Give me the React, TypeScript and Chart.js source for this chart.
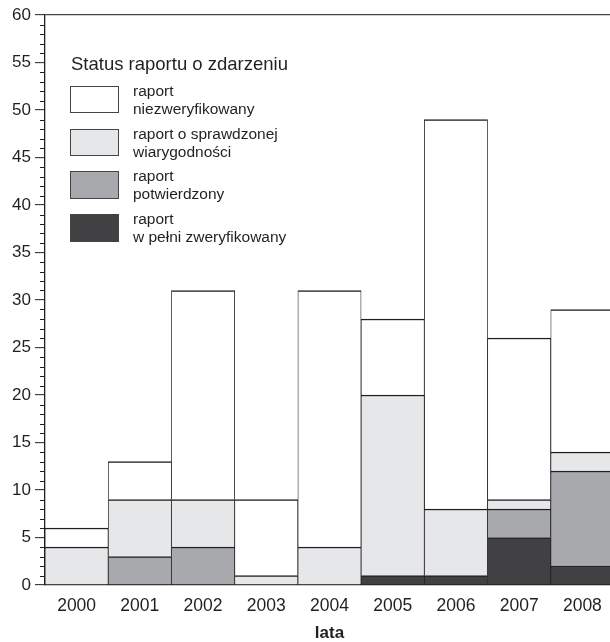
import React, { useEffect, useRef } from 'react';
import { Chart, registerables } from 'chart.js';

Chart.register(...registerables);

const years = ['2000', '2001', '2002', '2003', '2004', '2005', '2006', '2007', '2008'];
const fullyVerified = [0, 0, 0, 0, 0, 1, 1, 5, 2];
const confirmed = [0, 3, 4, 0, 0, 0, 0, 3, 10];
const checked = [4, 6, 5, 1, 4, 19, 7, 1, 2];
const unverified = [2, 4, 22, 8, 27, 8, 41, 17, 15];

const legendTitle = 'Status raportu o zdarzeniu';
const labelUnverified = ['raport', 'niezweryfikowany'];
const labelChecked = ['raport o sprawdzonej', 'wiarygodności'];
const labelConfirmed = ['raport', 'potwierdzony'];
const labelFully = ['raport', 'w pełni zweryfikowany'];
const axisTitle = 'lata';

const FONT = '"Liberation Sans", Arial, Helvetica, sans-serif';
const INK = '#231f20';
const C_WHITE = '#ffffff';
const C_LIGHT = '#e6e7e8';
const C_MID = '#a7a9ac';
const C_DARK = '#414042';

const minorTicks = {
  id: 'minorTicks',
  afterDraw(chart: any) {
    const y = chart.scales.y;
    const ctx = chart.ctx;
    const left = chart.chartArea.left;
    ctx.save();
    ctx.strokeStyle = INK;
    ctx.lineWidth = 1;
    for (let v = 0; v <= 60; v++) {
      if (v % 5 === 0) continue;
      const py = Math.round(y.getPixelForValue(v)) + 0.5;
      ctx.beginPath();
      ctx.moveTo(left - 5, py);
      ctx.lineTo(left, py);
      ctx.stroke();
    }
    ctx.restore();
  },
};

export default function App() {
  const ref = useRef<HTMLCanvasElement | null>(null);

  useEffect(() => {
    if (!ref.current) return;
    const bw = { top: 1.5, left: 0.8, right: 0.8, bottom: 0 };
    const mk = (label: string, data: number[], color: string) => ({
      label,
      data,
      backgroundColor: color,
      borderColor: INK,
      borderWidth: bw,
      borderSkipped: 'start' as const,
      categoryPercentage: 1,
      barPercentage: 1,
    });
    const chart = new Chart(ref.current, {
      type: 'bar',
      data: {
        labels: years,
        datasets: [
          mk(labelFully.join(' '), fullyVerified, C_DARK),
          mk(labelConfirmed.join(' '), confirmed, C_MID),
          mk(labelChecked.join(' '), checked, C_LIGHT),
          mk(labelUnverified.join(' '), unverified, C_WHITE),
        ],
      },
      options: {
        responsive: false,
        animation: false,
        layout: { padding: { top: 15, right: 0, bottom: 0, left: 0 } },
        plugins: { legend: { display: false }, tooltip: { enabled: false } },
        scales: {
          x: {
            stacked: true,
            afterFit: (s: any) => {
              s.height = 57;
            },
            grid: { display: false, drawTicks: false },
            border: { display: true, color: INK, width: 1.3 },
            ticks: { color: INK, font: { family: FONT, size: 17.5 }, padding: 11 },
            title: {
              display: true,
              text: axisTitle,
              color: INK,
              font: { family: FONT, size: 17, weight: 'bold' },
              padding: { top: 9, bottom: -2 },
            },
          },
          y: {
            stacked: true,
            min: 0,
            max: 60,
            afterFit: (s: any) => {
              s.width = 45;
            },
            grid: {
              drawOnChartArea: true,
              drawTicks: true,
              tickLength: 10,
              tickColor: INK,
              tickWidth: 1,
              color: (c: any) => (c.tick && c.tick.value === 60 ? '#444444' : 'rgba(0,0,0,0)'),
              lineWidth: 1.3,
            },
            border: { display: true, color: INK, width: 1.3 },
            ticks: {
              stepSize: 5,
              color: INK,
              padding: 4,
              font: { family: FONT, size: 17 },
            },
          },
        },
      },
      plugins: [minorTicks],
    });
    return () => chart.destroy();
  }, []);

  const items = [
    { lines: labelUnverified, color: C_WHITE },
    { lines: labelChecked, color: C_LIGHT },
    { lines: labelConfirmed, color: C_MID },
    { lines: labelFully, color: C_DARK },
  ];

  return (
    <div
      style={{
        position: 'absolute',
        left: 0,
        top: 0,
        width: 610,
        height: 642,
        overflow: 'hidden',
        background: '#fff',
        fontFamily: FONT,
        color: INK,
      }}
    >
      <canvas ref={ref} width={614} height={642} style={{ display: 'block', width: 614, height: 642 }} />
      <div
        style={{
          position: 'absolute',
          left: 71,
          top: 54,
          fontSize: 18.5,
          lineHeight: '20px',
          whiteSpace: 'nowrap',
        }}
      >
        {legendTitle}
      </div>
      {items.map((it, i) => {
        const top = 85.7 + i * 42.8;
        return (
          <React.Fragment key={i}>
            <div
              style={{
                position: 'absolute',
                left: 70,
                top,
                width: 49,
                height: 27.5,
                boxSizing: 'border-box',
                border: '1.5px solid #444',
                background: it.color,
              }}
            />
            <div
              style={{
                position: 'absolute',
                left: 133,
                top: top - 4,
                fontSize: 15.5,
                lineHeight: '18px',
                whiteSpace: 'nowrap',
              }}
            >
              {it.lines.map((l, j) => (
                <div key={j}>{l}</div>
              ))}
            </div>
          </React.Fragment>
        );
      })}
    </div>
  );
}
